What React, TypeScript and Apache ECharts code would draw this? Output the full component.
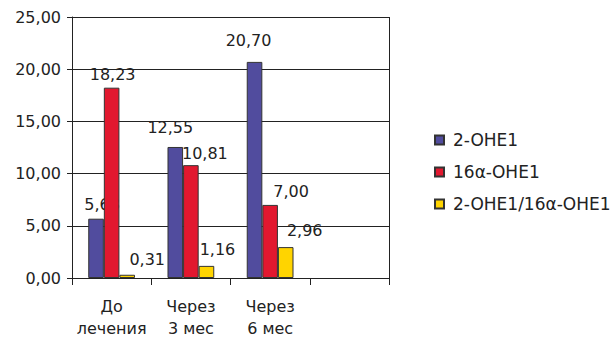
import React, { useEffect, useRef } from "react";
import * as echarts from "echarts";

const categories = ["До\nлечения", "Через\n3 мес", "Через\n6 мес", ""];
const seriesNames = ["2-OHE1", "16α-OHE1", "2-OHE1/16α-OHE1"];
const ohe2 = [5.68, 12.55, 20.7, null];
const ohe16 = [18.23, 10.81, 7.0, null];
const ratio = [0.31, 1.16, 2.96, null];
const yTicks = { min: 0, max: 25, interval: 5 };

const colors = ["#514C9E", "#E2182F", "#FFD400"];
// label nudges (style only)
const labelShift = [
  [[6, -1], [-5, -6], [-6, -8]],
  [[1, 0], [14, 1], [21, 0]],
  [[20, -2], [11, -3], [19, -4]],
];

const FONT = "DejaVu Sans";
const fmt = (v: number) => v.toFixed(2).replace(".", ",");

export default function App() {
  const ref = useRef<HTMLDivElement>(null);
  useEffect(() => {
    if (!ref.current) return;
    const chart = echarts.init(ref.current, null, { renderer: "svg" });
    const datasets = [ohe2, ohe16, ratio];
    chart.setOption({
      animation: false,
      textStyle: { fontFamily: FONT },
      grid: { left: 72, right: 227, top: 17, height: 266, containLabel: false },
      legend: {
        orient: "vertical",
        left: 429,
        top: 125,
        itemWidth: 9,
        itemHeight: 9,
        itemGap: 12,
        icon: "rect",
        textStyle: { fontFamily: FONT, fontSize: 17, color: "#222", padding: [0, 0, 0, 4], lineHeight: 20 },
        data: seriesNames,
      },
      xAxis: {
        type: "category",
        data: categories,
        axisLine: { lineStyle: { color: "#222", width: 1 } },
        axisTick: { show: true, length: 7, lineStyle: { color: "#222" }, alignWithLabel: false },
        axisLabel: { fontFamily: FONT, fontSize: 16, color: "#222", margin: 17, lineHeight: 22, interval: 0 },
        splitLine: { show: false },
      },
      yAxis: {
        type: "value",
        min: yTicks.min,
        max: yTicks.max,
        interval: yTicks.interval,
        axisLine: { show: true, lineStyle: { color: "#222" } },
        axisTick: { show: true, length: 5, lineStyle: { color: "#222" } },
        axisLabel: {
          fontFamily: FONT,
          fontSize: 16,
          color: "#222",
          margin: 11,
          padding: [7, 0, 0, 0],
          formatter: (v: number) => fmt(v),
        },
        splitLine: { show: true, lineStyle: { color: "#222", width: 1 } },
      },
      series: datasets.map((d, i) => ({
        name: seriesNames[i],
        type: "bar",
        z: 2 + i,
        barGap: "0%",
        barCategoryGap: "41%",
        itemStyle: { color: colors[i], borderColor: "#333", borderWidth: 1 },
        data: d.map((v, j) =>
          v == null
            ? null
            : {
                value: v,
                label: { offset: labelShift[i][j] },
              }
        ),
        label: {
          show: true,
          position: "top",
          distance: 5,
          fontFamily: FONT,
          fontSize: 16,
          color: "#222",
          formatter: (p: any) => fmt(p.value),
        },
      })),
      graphic: [
        {
          type: "line",
          shape: { x1: 389.5, y1: 17, x2: 389.5, y2: 283 },
          style: { stroke: "#222", lineWidth: 1 },
          z: 1,
        },
      ],
    });
    return () => chart.dispose();
  }, []);
  return <div ref={ref} style={{ width: 616, height: 339, position: "absolute", left: 0, top: 0 }} />;
}
